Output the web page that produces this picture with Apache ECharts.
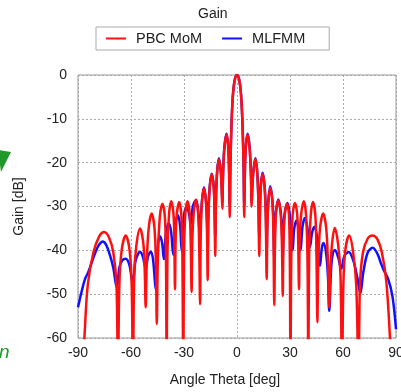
<!DOCTYPE html>
<html><head><meta charset="utf-8">
<script src="https://cdn.jsdelivr.net/npm/echarts@6/dist/echarts.min.js"></script>
<style>html,body{margin:0;padding:0;background:#fff}#c{width:401px;height:392px}</style>
</head><body><div id="c"></div>
<script>
const titleText = 'Gain';
const seriesNames = ['PBC MoM', 'MLFMM'];
const xName = 'Angle Theta [deg]';
const yName = 'Gain [dB]';
const xTicks = [-90, -60, -30, 0, 30, 60, 90];
const yTicks = [-60, -50, -40, -30, -20, -10, 0];

// PBC MoM (red): [theta deg, gain dB]
const redPoints = [
[-89,-75],[-86.4,-60],[-84.5,-48],[-81.3,-40.5],[-78,-36.8],[-75.2,-35.8],[-72.5,-37],[-70,-40.5],[-68.2,-48],[-67.4,-70],
[-66.6,-48],[-65.3,-40],[-63,-36.6],[-60.8,-40],[-59.6,-48],[-58.9,-70],
[-58.2,-46],[-57,-39],[-54.9,-35],[-53,-38.5],[-52.2,-45],[-51.7,-53],
[-51.1,-43],[-50,-35],[-48.3,-31.6],[-46.7,-35],[-45.9,-43],[-45.4,-56.8],
[-44.8,-42],[-43.7,-32.5],[-42.2,-29.4],[-40.8,-32.5],[-40.2,-42],[-39.8,-70],
[-39.4,-42],[-38.5,-32],[-37.2,-28.8],[-36,-31.5],[-35.5,-37],[-35.1,-48.9],
[-34.7,-37],[-34,-31.5],[-32.7,-29],[-31.5,-32],[-30.9,-42],[-30.4,-70],
[-30,-42],[-29.3,-32],[-28,-28.8],[-26.8,-31.5],[-26.2,-38],[-25.7,-49.5],
[-25.3,-38],[-24.5,-31.5],[-23.2,-28.4],[-22,-31.5],[-21.4,-39],[-20.9,-52.3],
[-20.5,-36],[-19.8,-28.8],[-18.7,-25.8],[-17.6,-28.8],[-17,-35],[-16.6,-46.8],
[-16.2,-33],[-15.4,-25.5],[-14.3,-22.7],[-13.2,-25.5],[-12.7,-32],[-12.3,-41.3],
[-11.9,-29],[-11.2,-22],[-10.2,-19.2],[-9.2,-22],[-8.7,-26],[-8.3,-30.5],
[-7.9,-23],[-7.1,-16.5],[-5.9,-13.6],[-4.9,-17],[-4.4,-24],[-4.1,-32.4],
[-3.7,-20],[-3,-10],[-2.2,-4],[-1.2,-1],[0,0],[1.2,-1],[2.2,-4],[3,-10],[3.7,-20],[4.1,-32.4],
[4.4,-24],[4.9,-17],[6,-13.6],[7.1,-16.5],[7.9,-23],[8.3,-30],
[8.7,-26],[9.3,-22],[10.4,-19.2],[11.4,-22],[12.1,-29],[12.6,-41.3],
[13,-32],[13.5,-25.5],[14.5,-22.6],[15.6,-25.5],[16.3,-33],[16.8,-46.6],
[17.2,-35],[17.8,-28.8],[18.8,-25.7],[20,-28.8],[20.6,-36],[21.1,-52.5],
[21.5,-39],[22.1,-31.5],[23.4,-28.6],[24.7,-31.5],[25.4,-38],[25.9,-50.4],
[26.3,-38],[27,-32],[28.3,-29.4],[29.4,-32],[29.9,-42],[30.3,-70],
[30.7,-42],[31.5,-32],[32.8,-29.2],[34,-31.5],[34.6,-37],[35.1,-48.9],
[35.5,-37],[36.4,-31.5],[37.8,-28.8],[39.1,-32],[39.9,-42],[40.4,-70],
[40.8,-42],[41.7,-32.3],[43,-29],[44.4,-32.3],[45,-42],[45.5,-56.4],
[46,-43],[47,-35],[48.8,-31.6],[50.5,-35],[51.5,-43],[52.2,-53],
[52.8,-45],[53.8,-38.5],[55.3,-34.9],[57.2,-38.5],[58.6,-46],[59.4,-70],
[60.2,-48],[61.3,-40],[63.5,-36.6],[65.6,-40],[67.5,-48],[68.8,-70],
[69.6,-48],[71.3,-40.5],[74,-37.3],[76.8,-36.6],[79.5,-37.5],[82,-40.5],[84.5,-47],[86.6,-60],[88.5,-75]
];

// MLFMM (blue): [theta deg, gain dB]
const bluePoints = [
[-90,-53],[-88,-49.5],[-86,-46.5],[-84.2,-45],[-82,-42.5],[-80,-40.3],[-78,-38.7],[-76,-38],[-74,-38.8],[-72,-41],[-70,-44],[-68.1,-48.4],
[-66.5,-43.8],[-65,-42.3],[-63,-41.9],[-61,-43.2],[-59,-47.5],
[-57.5,-42.5],[-56,-40.8],[-54.9,-40.4],[-53.4,-41.3],[-51.7,-44],
[-50.2,-41.2],[-48.7,-40.3],[-47.4,-42.5],[-46,-49],
[-44.8,-39],[-43.6,-36.8],[-42.4,-38.3],[-41.4,-42],
[-40.1,-35.5],[-38.6,-33.9],[-37.3,-35.8],[-36.1,-41],
[-34.8,-33.8],[-33.4,-32],[-32.2,-34.5],[-31.3,-40.2],
[-30,-32],[-28.5,-30.3],[-27.2,-31.5],[-26.2,-34],
[-25,-30],[-23.2,-28.5],[-22,-31],[-21,-37],
[-20.5,-33],[-19.8,-28.6],[-18.7,-25.6],[-17.6,-28.6],[-17,-33],[-16.6,-40],
[-16.2,-31],[-15.4,-25.3],[-14.3,-22.5],[-13.2,-25.3],[-12.7,-30],[-12.3,-37],
[-11.9,-28],[-11.2,-21.8],[-10.2,-19],[-9.2,-21.8],[-8.7,-25],[-8.3,-29],
[-7.9,-22.5],[-7.1,-16.3],[-5.9,-13.4],[-4.9,-16.8],[-4.4,-23],[-4.1,-30],
[-3.7,-20],[-3,-10],[-2.2,-4],[-1.2,-1],[0,0],[1.2,-1],[2.2,-4],[3,-10],[3.7,-20],[4.1,-30],
[4.4,-23],[4.9,-16.8],[6,-13.4],[7.1,-16.3],[7.9,-22.5],[8.3,-29],
[8.7,-25],[9.3,-21.8],[10.4,-19],[11.4,-21.8],[12.1,-28],[12.6,-37],
[13,-30],[13.5,-25.2],[14.5,-22.3],[15.6,-25.2],[16.3,-31],[16.8,-40],
[17.2,-33],[17.8,-28.4],[18.8,-25.4],[20,-28.4],[20.6,-33],[21.1,-42],
[21.5,-35],[22.1,-31],[23.4,-28.4],[24.7,-31],[25.4,-35],[25.9,-42],
[26.5,-34],[27.2,-31],[28.6,-29.2],[29.9,-32],[30.7,-36],[31.5,-40],
[32.4,-35],[33.8,-33.2],[35,-35.5],[36,-40],
[37.1,-34.5],[38.5,-32.6],[39.9,-35],[41.3,-39.2],
[42.5,-36],[43.8,-34.6],[45.5,-37.5],[47,-43.5],
[48,-39.5],[49,-38.3],[50.4,-40.5],[51.5,-46],[52.2,-53.8],
[53.3,-44],[54.3,-40.6],[55.4,-39.9],[57.2,-41.5],[59,-44.2],
[60.8,-41.3],[63.2,-40.4],[65.8,-42.3],[68,-46],[69.8,-49.8],
[71.5,-45],[74,-40.5],[76.8,-39.4],[79.5,-40.8],[81.5,-43],[82.8,-44.3],[85.6,-46.6],[88,-50.5],[90,-58]
];

const FONT = '"Liberation Sans", Arial, sans-serif';
const chart = echarts.init(document.getElementById('c'), null, {renderer: 'canvas'});
chart.setOption({
  animation: false,
  backgroundColor: '#fff',
  title: {text: titleText, left: 198, top: 7, padding: 0,
    textStyle: {fontFamily: FONT, fontSize: 14, fontWeight: 'normal', color: '#222'}},
  legend: {
    data: seriesNames, left: 96, top: 27, padding: [4, 24, 4, 10],
    borderColor: '#aaa', borderWidth: 1, itemGap: 20, itemWidth: 20, itemHeight: 15,
    icon: 'path://M0,6.5H20V8.5H0Z',
    textStyle: {fontFamily: FONT, fontSize: 14.5, color: '#222', padding: [0, 0, 0, 5]}
  },
  graphic: [
    {type: 'polygon', shape: {points: [[-2, 150], [11, 152], [1, 172]]}, style: {fill: '#1f9a2a'}},
    {type: 'text', left: -1, top: 343, style: {text: 'n', fill: '#1f9a2a', font: 'italic 19px ' + FONT}}
  ],
  grid: {left: 78, right: 5, top: 75, bottom: 54, show: true, borderColor: '#999', borderWidth: 1,
    outerBoundsMode: 'none', containLabel: false},
  xAxis: {
    type: 'value', min: xTicks[0], max: xTicks[xTicks.length - 1], interval: 30,
    name: xName, nameLocation: 'middle', nameGap: 35,
    nameTextStyle: {fontFamily: FONT, fontSize: 14, color: '#222', padding: [0, 24, 0, 0]},
    axisLine: {show: false}, axisTick: {show: false},
    axisLabel: {fontFamily: FONT, fontSize: 14, color: '#222', margin: 8},
    splitLine: {show: true, lineStyle: {color: '#aaa', type: [2, 2], width: 1}}
  },
  yAxis: {
    type: 'value', min: yTicks[0], max: yTicks[yTicks.length - 1], interval: 10,
    name: yName, nameLocation: 'middle', nameGap: 52,
    nameTextStyle: {fontFamily: FONT, fontSize: 14, color: '#222'},
    axisLine: {show: false}, axisTick: {show: false},
    axisLabel: {fontFamily: FONT, fontSize: 14, color: '#222', margin: 11},
    splitLine: {show: true, lineStyle: {color: '#aaa', type: [2, 2], width: 1}}
  },
  series: [
    {name: seriesNames[1], type: 'line', data: bluePoints, showSymbol: false, symbol: 'none',
      smooth: 0.35, clip: true, lineStyle: {color: '#1010ff', width: 2.5}, itemStyle: {color: '#1010ff'}},
    {name: seriesNames[0], type: 'line', data: redPoints, showSymbol: false, symbol: 'none',
      smooth: 0.35, clip: true, lineStyle: {color: '#ff1010', width: 2.5}, itemStyle: {color: '#ff1010'}}
  ]
});
</script></body></html>
